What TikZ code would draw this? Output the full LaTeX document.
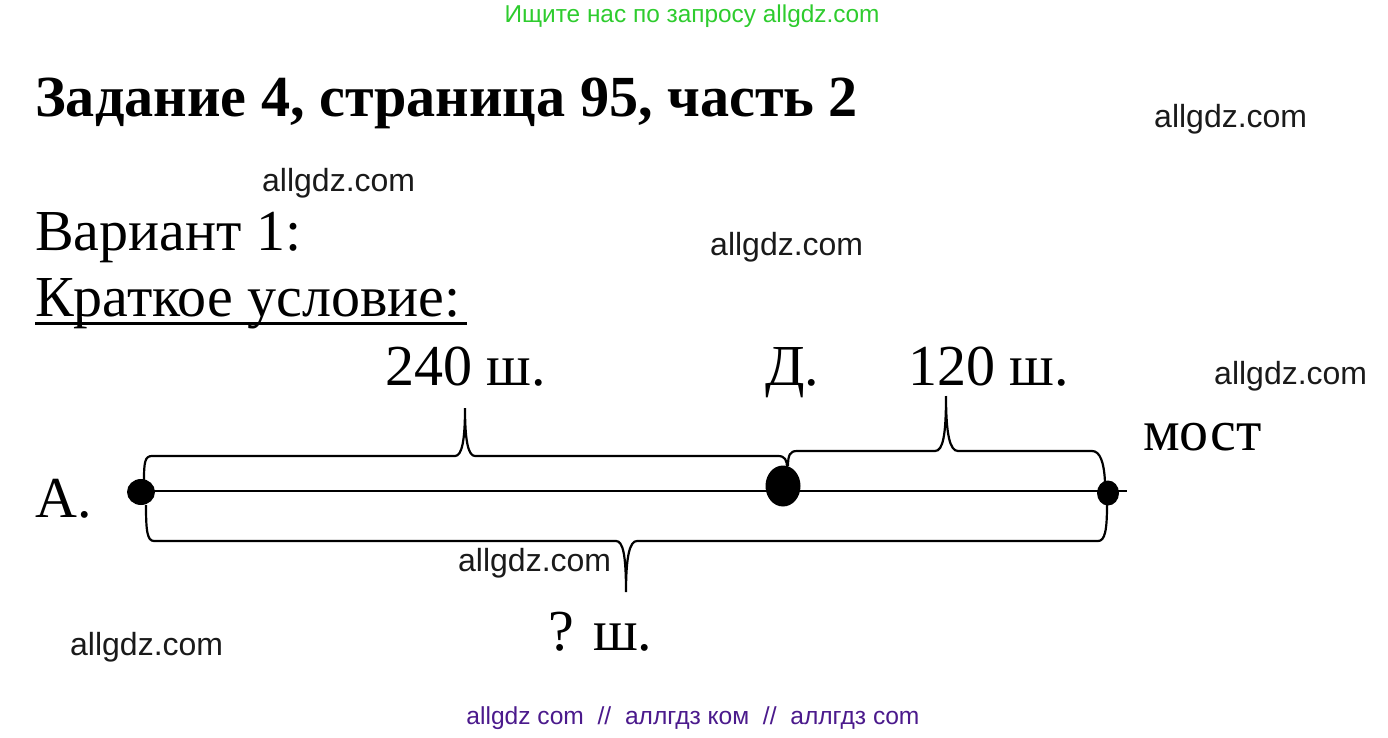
\documentclass[tikz,border=0pt]{standalone}
\usepackage{fontspec}
\setmainfont{Liberation Serif}
\newfontfamily\markfont{Liberation Sans}
\usetikzlibrary{shapes.geometric}
\definecolor{markgreen}{RGB}{46,204,46}
\definecolor{markpurple}{RGB}{75,26,140}
\definecolor{markgray}{RGB}{26,26,26}
\begin{document}
\begin{tikzpicture}[x=1pt,y=-1pt,
	bigtext/.style={font=\fontsize{58}{66}\selectfont, inner sep=0pt, anchor=base west},
	marktext/.style={font=\markfont\fontsize{32}{38}\selectfont, text=markgray, inner sep=0pt, anchor=base west},
	dot/.style={ellipse, fill=black, inner sep=0pt},
	bracepath/.style={line width=2.2pt}]

	%Background
	\useasboundingbox[fill=white] (0,0) rectangle (1388,738);

	%Watermarks
	\node[font=\markfont\fontsize{24.4}{28}\selectfont, text=markgreen, inner sep=0pt] (topmark) at (692,16) {Ищите нас по запросу allgdz.com};
	\node[font=\markfont\fontsize{24.6}{28}\selectfont, text=markpurple, inner sep=0pt] (bottommark) at (693,718) {allgdz com\ \ //\ \ аллгдз ком\ \ //\ \ аллгдз com};
	\node[marktext] (mark1) at (1154,128) {allgdz.com};
	\node[marktext] (mark2) at (262,192) {allgdz.com};
	\node[marktext] (mark3) at (710,255) {allgdz.com};
	\node[marktext] (mark4) at (1214,384) {allgdz.com};
	\node[marktext] (mark5) at (458,571) {allgdz.com};
	\node[marktext] (mark6) at (70,655) {allgdz.com};

	%Title
	\node[bigtext, font=\bfseries\fontsize{58.2}{68}\selectfont] (title) at (35,117) {Задание 4, страница 95, часть 2};
	\node[bigtext] (variant) at (35,250) {Вариант 1:};
	\node[bigtext] (cond) at (35,316) {Краткое условие:};
	\draw[line width=3pt] (cond.base west) ++(0,7) -- ++(432,0);

	%Line
	\draw[line width=2.4pt] (130,491) -- (1127,491);
	\node[dot, minimum width=28pt, minimum height=26pt] (A) at (141,492) {};
	\node[dot, minimum width=35pt, minimum height=41pt] (D) at (783,486) {};
	\node[dot, minimum width=22pt, minimum height=25pt] (M) at (1108,493) {};

	%Labels
	\node[bigtext] (lA) at (35,517) {А.};
	\node[bigtext] (lD) at (765,385) {Д.};
	\node[bigtext] (l240) at (385,385) {240 ш.};
	\node[bigtext] (l120) at (908,385) {120 ш.};
	\node[bigtext] (lmost) at (1143,450) {мост};
	\node[bigtext] (lq) at (548,650) {? ш.};

	%Braces
	\draw[bracepath] (144,480) .. controls (144,462) and (145,456) .. (152,456) -- (455,456)
		.. controls (462,456) and (465,440) .. (465,408) .. controls (465,440) and (468,456) .. (475,456)
		-- (778,456) .. controls (785,456) and (787,460) .. (787,468);
	\draw[bracepath] (788,466) .. controls (788,455) and (790,451) .. (797,451) -- (935,451)
		.. controls (943,451) and (946,435) .. (946,396) .. controls (946,435) and (950,451) .. (958,451)
		-- (1092,451) .. controls (1100,451) and (1104,462) .. (1105,482);
	\draw[bracepath] (146,505) .. controls (146,530) and (147,541) .. (154,541) -- (616,541)
		.. controls (623,541) and (626,555) .. (626,592) .. controls (626,555) and (630,541) .. (637,541)
		-- (1098,541) .. controls (1105,541) and (1107,530) .. (1107,505);

\end{tikzpicture}
\end{document}
